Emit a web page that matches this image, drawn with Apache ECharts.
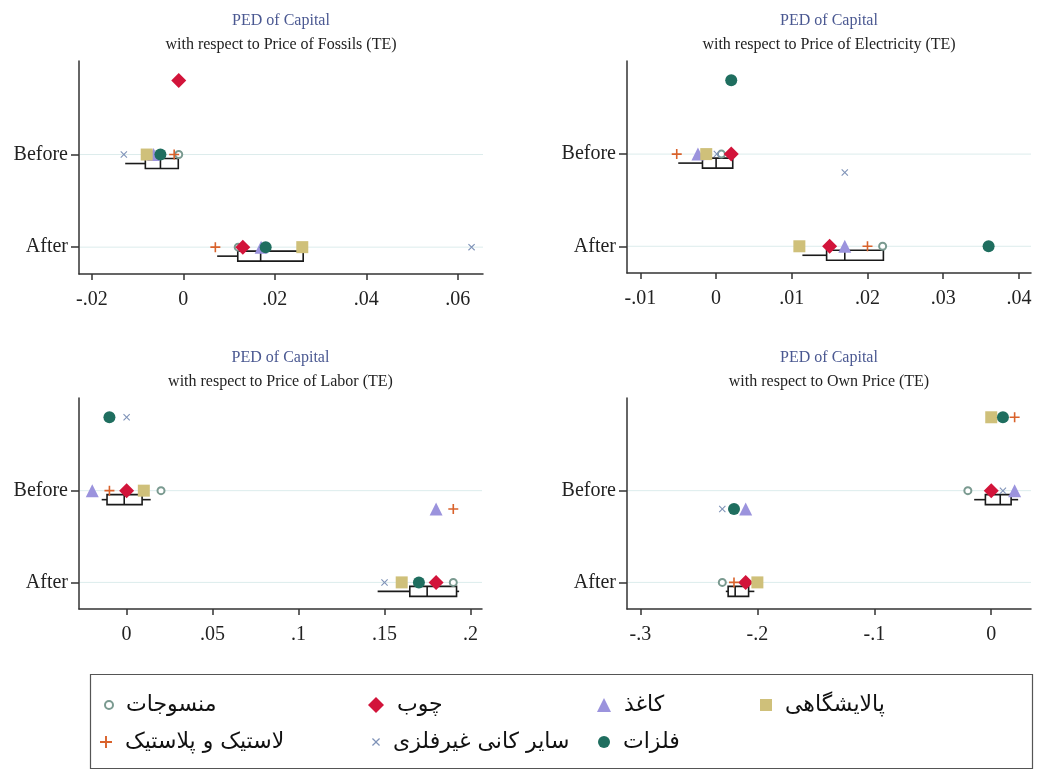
<!DOCTYPE html>
<html>
<head>
<meta charset="utf-8">
<script src="https://cdn.jsdelivr.net/npm/echarts@6.0.0/dist/echarts.min.js"></script>
<style>
  html, body { margin: 0; padding: 0; background: #fff; }
  #chart { width: 1039px; height: 770px; }
</style>
</head>
<body>
<div id="chart"></div>
<script>
// sectors, in legend / drawing order
const sectors = ['منسوجات', 'چوب', 'کاغذ', 'پالایشگاهی', 'لاستیک و پلاستیک', 'سایر کانی غیرفلزی', 'فلزات']
// row 1 = Before, row 0 = After (1.8 / 0.8 are the shifted marker rows)
const rowLabels = ['After', 'Before']

const panelTitles = [
  'with respect to Price of Fossils (TE)',
  'with respect to Price of Electricity (TE)',
  'with respect to Price of Labor (TE)',
  'with respect to Own Price (TE)'
]

// points per sector: [value, row]
const fossilsPts = [
  [[-0.001, 1], [0.012, 0]],
  [[-0.001, 1.8], [0.013, 0]],
  [[-0.0065, 1], [0.017, 0]],
  [[-0.008, 1], [0.026, 0]],
  [[-0.002, 1], [0.007, 0]],
  [[-0.013, 1], [0.063, 0]],
  [[-0.005, 1], [0.018, 0]]
]
const electricityPts = [
  [[0.0007, 1], [0.022, 0]],
  [[0.002, 1], [0.015, 0]],
  [[-0.0024, 1], [0.017, 0]],
  [[-0.0013, 1], [0.011, 0]],
  [[-0.0052, 1], [0.020, 0]],
  [[0.0001, 1], [0.017, 0.8]],
  [[0.002, 1.8], [0.036, 0]]
]
const laborPts = [
  [[0.02, 1], [0.19, 0]],
  [[0, 1], [0.18, 0]],
  [[-0.02, 1], [0.18, 0.8]],
  [[0.01, 1], [0.16, 0]],
  [[-0.01, 1], [0.19, 0.8]],
  [[0, 1.8], [0.15, 0]],
  [[-0.01, 1.8], [0.17, 0]]
]
const ownPts = [
  [[-0.02, 1], [-0.23, 0]],
  [[0, 1], [-0.21, 0]],
  [[0.02, 1], [-0.21, 0.8]],
  [[0, 1.8], [-0.20, 0]],
  [[0.02, 1.8], [-0.22, 0]],
  [[0.01, 1], [-0.23, 0.8]],
  [[0.01, 1.8], [-0.22, 0.8]]
]

// box plots: [row, whiskerLow, q1, median, q3, whiskerHigh]
const fossilsBox = [[1, -0.0127, -0.0083, -0.005, -0.0011, -0.0011], [0, 0.0074, 0.0119, 0.0169, 0.0262, 0.0262]]
const electricityBox = [[1, -0.0050, -0.0018, 0.0, 0.0022, 0.0022], [0, 0.0114, 0.0146, 0.0170, 0.0221, 0.0221]]
const laborBox = [[1, -0.0145, -0.0114, -0.0014, 0.009, 0.014], [0, 0.146, 0.1647, 0.1748, 0.1919, 0.1934]]
const ownBox = [[1, -0.0146, -0.005, 0.0077, 0.017, 0.023], [0, -0.227, -0.225, -0.219, -0.2075, -0.2026]]

// x tick labels
const fossilsTicks = [-0.02, 0, 0.02, 0.04, 0.06]
const electricityTicks = [-0.01, 0, 0.01, 0.02, 0.03, 0.04]
const laborTicks = [0, 0.05, 0.1, 0.15, 0.2]
const ownTicks = [-0.3, -0.2, -0.1, 0]

const panels = [
  { pts: fossilsPts, box: fossilsBox, ticks: fossilsTicks, min: -0.0228, max: 0.0655, grid: [79, 61, 404, 213] },
  { pts: electricityPts, box: electricityBox, ticks: electricityTicks, min: -0.01177, max: 0.0416, grid: [627, 61, 404, 212] },
  { pts: laborPts, box: laborBox, ticks: laborTicks, min: -0.0277, max: 0.2067, grid: [79, 398, 403, 211] },
  { pts: ownPts, box: ownBox, ticks: ownTicks, min: -0.3115, max: 0.034, grid: [627, 398, 404, 211] }
]

const serif = 'Liberation Serif'
const persian = 'DejaVu Sans'
const axisColor = '#333'

const plusPath = 'path://M4.2,0H5.8V4.2H10V5.8H5.8V10H4.2V5.8H0V4.2H4.2Z'
const crossPath = 'path://M1.1,0L5,3.9L8.9,0L10,1.1L6.1,5L10,8.9L8.9,10L5,6.1L1.1,10L0,8.9L3.9,5L0,1.1Z'
const markers = [
  { symbol: 'emptyCircle', size: 7, color: '#7a9a90', border: 1.5, legendSize: 8 },
  { symbol: 'diamond', size: 15, color: '#d2143a', legendSize: 16 },
  { symbol: 'triangle', size: 13, color: '#9b93dd', legendSize: 14 },
  { symbol: 'rect', size: 12, color: '#cfc07a', legendSize: 12 },
  { symbol: plusPath, size: 10, color: '#d9622b', legendSize: 12 },
  { symbol: crossPath, size: 7, color: '#7f93b8', legendSize: 8 },
  { symbol: 'circle', size: 12, color: '#1f6e5f', legendSize: 12 }
]

function fmtTick (v) {
  if (Math.abs(v) < 1e-9) return '0'
  return String(+v.toFixed(4)).replace(/^(-?)0\./, '$1.')
}

function renderBox (params, api) {
  const row = api.value(0)
  const lo = api.coord([api.value(1), row])
  const q1 = api.coord([api.value(2), row])
  const md = api.coord([api.value(3), row])
  const q3 = api.coord([api.value(4), row])
  const hi = api.coord([api.value(5), row])
  const cs = params.coordSys
  const y = lo[1]
  const top = y + 4
  const bot = y + 14
  const mid = y + 9
  const st = { stroke: '#1a1a1a', lineWidth: 1.6, fill: 'none' }
  return {
    type: 'group',
    children: [
      { type: 'line', z2: -10, shape: { x1: cs.x + 1, y1: y, x2: cs.x + cs.width, y2: y }, style: { stroke: '#dcecec', lineWidth: 1 } },
      { type: 'line', shape: { x1: lo[0], y1: mid, x2: q1[0], y2: mid }, style: st },
      { type: 'line', shape: { x1: q3[0], y1: mid, x2: hi[0], y2: mid }, style: st },
      { type: 'rect', shape: { x: q1[0], y: top, width: q3[0] - q1[0], height: bot - top }, style: st },
      { type: 'line', shape: { x1: md[0], y1: top, x2: md[0], y2: bot }, style: st }
    ]
  }
}

const grid = []
const xAxis = []
const yAxis = []
const title = []
const series = []

panels.forEach((p, i) => {
  const [l, t, w, h] = p.grid
  grid.push({ left: l, top: t, width: w, height: h })
  title.push({
    text: 'PED of Capital',
    subtext: panelTitles[i],
    left: l + w / 2,
    top: t - 48,
    textAlign: 'center',
    padding: 0,
    itemGap: 8,
    textStyle: { fontFamily: serif, fontSize: 16, fontWeight: 'normal', color: '#4a5891' },
    subtextStyle: { fontFamily: serif, fontSize: 16, color: '#222' }
  })
  xAxis.push({
    type: 'value',
    gridIndex: i,
    min: p.min,
    max: p.max,
    axisLine: { show: true, onZero: false, lineStyle: { color: axisColor, width: 1.5 } },
    axisTick: { show: true, customValues: p.ticks, length: 6, lineStyle: { color: axisColor, width: 1.5 } },
    axisLabel: { customValues: p.ticks, formatter: fmtTick, fontFamily: serif, fontSize: 20, color: '#222', margin: 16 },
    splitLine: { show: false }
  })
  yAxis.push({
    type: 'value',
    gridIndex: i,
    min: -0.29,
    max: 2.01,
    axisLine: { show: true, onZero: false, lineStyle: { color: axisColor, width: 1.5 } },
    axisTick: { show: true, customValues: [0, 1], length: 8, lineStyle: { color: axisColor, width: 1.5 } },
    axisLabel: { customValues: [0, 1], formatter: v => rowLabels[Math.round(v)], fontFamily: serif, fontSize: 20, color: '#222', margin: 11 },
    splitLine: { show: false }
  })
  series.push({
    type: 'custom',
    xAxisIndex: i,
    yAxisIndex: i,
    z: 1,
    silent: true,
    encode: { x: [1, 2, 3, 4, 5], y: 0 },
    renderItem: renderBox,
    data: p.box
  })
  sectors.forEach((name, s) => {
    const m = markers[s]
    series.push({
      type: 'scatter',
      name: name,
      xAxisIndex: i,
      yAxisIndex: i,
      z: 3,
      symbol: m.symbol,
      symbolSize: m.size,
      itemStyle: { color: m.color, borderColor: m.color, borderWidth: m.border || 0, opacity: 1 },
      data: p.pts[s]
    })
  })
})

// legend items: icon centre x, row centre y
const legendSpots = [[108, 705], [376, 705], [604, 705], [766, 705], [106, 742], [376, 742], [604, 742]]
const legend = sectors.map((name, s) => {
  const sz = markers[s].legendSize
  return {
    data: [name],
    left: legendSpots[s][0] - sz / 2,
    top: legendSpots[s][1] - 14,
    padding: 0,
    itemWidth: sz,
    itemHeight: sz,
    selectedMode: false,
    textStyle: { fontFamily: persian, fontSize: 22, color: '#111', lineHeight: 28, padding: [0, 0, 0, 8] }
  }
})

const chart = echarts.init(document.getElementById('chart'))
chart.setOption({
  animation: false,
  backgroundColor: '#fff',
  title: title,
  grid: grid,
  xAxis: xAxis,
  yAxis: yAxis,
  legend: legend,
  graphic: [{
    type: 'rect',
    left: 88,
    top: 672,
    shape: { width: 942, height: 94 },
    style: { fill: 'none', stroke: '#555', lineWidth: 1.2 }
  }],
  series: series
})
</script>
</body>
</html>
